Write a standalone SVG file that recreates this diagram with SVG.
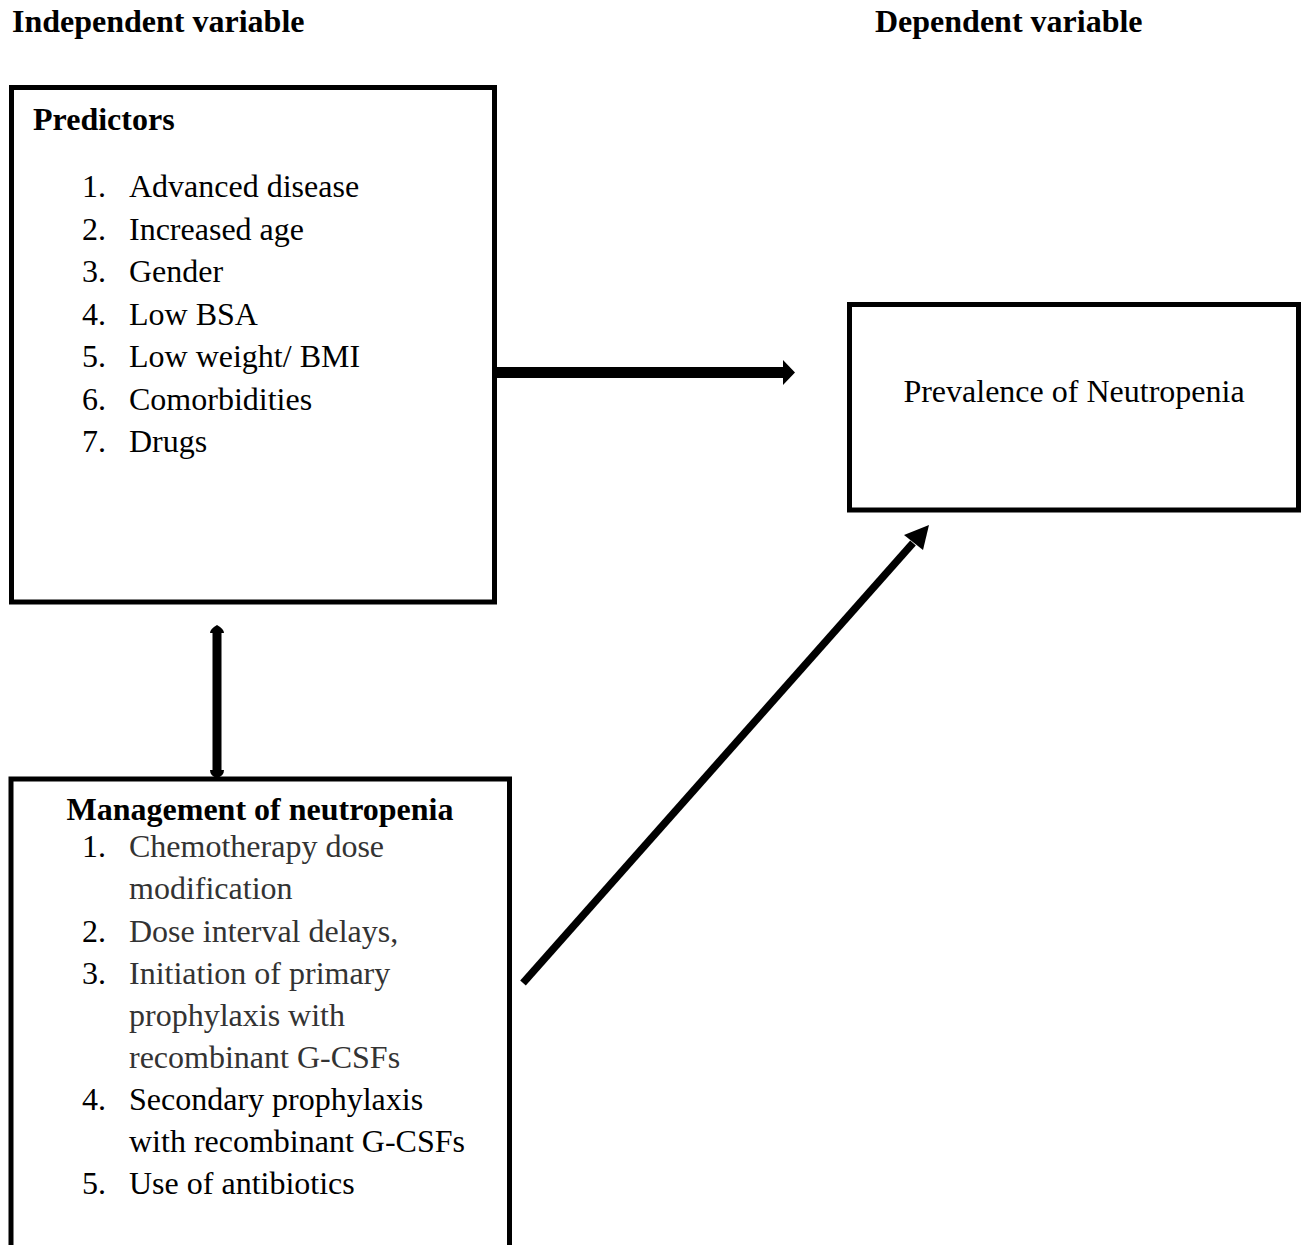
<svg xmlns="http://www.w3.org/2000/svg" width="1303" height="1245" viewBox="0 0 1303 1245">
  <style>
    text { font-family: "Liberation Serif", "Times New Roman", serif; font-size: 32px; fill: #000; }
    .b { font-weight: bold; }
    .g { fill: #333333; }
    .box { fill: #fff; stroke: #000; stroke-width: 5; }
  </style>
  <rect width="1303" height="1245" fill="#fff"/>
  <text class="b" x="12" y="32">Independent variable</text>
  <text class="b" x="875" y="32">Dependent variable</text>

  <g id="predictors">
    <rect class="box" x="11.5" y="87.5" width="483" height="514.5"/>
    <text class="b" x="33" y="130">Predictors</text>
    <text x="82" y="197">1.</text><text x="129" y="197">Advanced disease</text>
    <text x="82" y="239.5">2.</text><text x="129" y="239.5">Increased age</text>
    <text x="82" y="282">3.</text><text x="129" y="282">Gender</text>
    <text x="82" y="324.5">4.</text><text x="129" y="324.5">Low BSA</text>
    <text x="82" y="367">5.</text><text x="129" y="367">Low weight/ BMI</text>
    <text x="82" y="409.5">6.</text><text x="129" y="409.5">Comorbidities</text>
    <text x="82" y="452">7.</text><text x="129" y="452">Drugs</text>
  </g>

  <g id="prevalence">
    <rect class="box" x="849.5" y="304.5" width="449" height="205.5"/>
    <text x="1074" y="402" text-anchor="middle">Prevalence of Neutropenia</text>
  </g>

  <g id="management">
    <rect class="box" x="11" y="779" width="498.5" height="480"/>
    <text class="b" x="260" y="820" text-anchor="middle">Management of neutropenia</text>
    <text x="82" y="857">1.</text><text class="g" x="129" y="857">Chemotherapy dose</text>
    <text class="g" x="129" y="899">modification</text>
    <text x="82" y="942">2.</text><text class="g" x="129" y="942">Dose interval delays,</text>
    <text x="82" y="984">3.</text><text class="g" x="129" y="984">Initiation of primary</text>
    <text class="g" x="129" y="1026">prophylaxis with</text>
    <text class="g" x="129" y="1068">recombinant G-CSFs</text>
    <text x="82" y="1110">4.</text><text x="129" y="1110">Secondary prophylaxis</text>
    <text x="129" y="1152">with recombinant G-CSFs</text>
    <text x="82" y="1194">5.</text><text x="129" y="1194">Use of antibiotics</text>
  </g>

  <g id="connectors" fill="#000">
    <path d="M497 367 L783 367 L783 360 L795 372.5 L783 385 L783 378 L497 378 Z"/>
    <path d="M212.5 633 L210 633 Q210 629 217 625 Q224 629 224 633 L221.5 633 L221.5 770 L224 770 Q224 776 217 778 Q210 776 210 770 L212.5 770 Z"/>
    <line x1="523" y1="983" x2="913" y2="543" stroke="#000" stroke-width="7.5"/>
    <path d="M929 525 L923 550 L904 535 Z"/>
  </g>
</svg>
